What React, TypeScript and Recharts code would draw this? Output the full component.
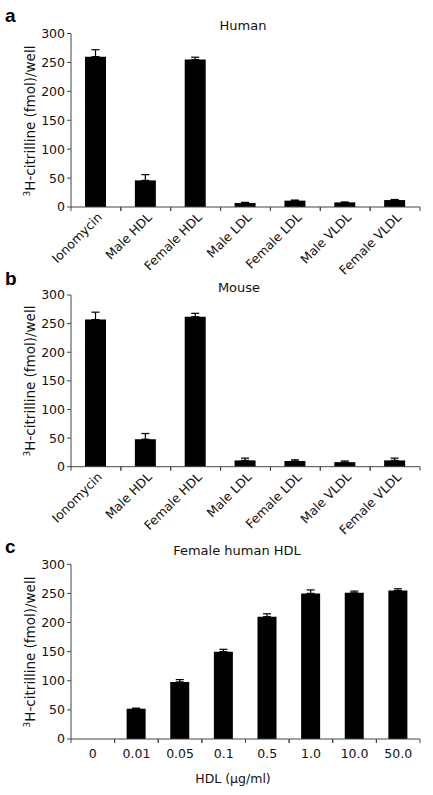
import React from 'react';
import { BarChart, Bar, XAxis, YAxis, ErrorBar } from 'recharts';

const lipoCategories = ['Ionomycin', 'Male HDL', 'Female HDL', 'Male LDL', 'Female LDL', 'Male VLDL', 'Female VLDL'];
const humanValues = [260, 46, 255, 7, 11, 8, 12];
const humanErrors = [12, 10, 4, 1, 1, 0.5, 1];
const mouseValues = [257, 48, 262, 11, 10, 8, 11];
const mouseErrors = [13, 10, 6, 4, 2, 2, 4];
const doseCategories = ['0', '0.01', '0.05', '0.1', '0.5', '1.0', '10.0', '50.0'];
const doseValues = [0, 52, 98, 150, 210, 250, 251, 255];
const doseErrors = [0, 1, 4, 4, 5, 6, 3, 3];
const yTicks = [0, 50, 100, 150, 200, 250, 300];

const FONT = '"DejaVu Sans", sans-serif';
const AXIS = '#444';
const PLOT_LEFT = 71;
const PLOT_RIGHT = 420;
const W = 433;

const build = (cats: string[], vals: number[], errs: number[]) =>
  cats.map((c, i) => ({ name: c, value: vals[i], err: [0, errs[i]] }));

const makeTick = (band: number, rotated: boolean) => (props: any) => {
  const { x, y, payload } = props;
  return (
    <g>
      <line x1={x - band / 2} y1={y} x2={x - band / 2} y2={y + 4} stroke={AXIS} strokeWidth={1} />
      <line x1={x + band / 2} y1={y} x2={x + band / 2} y2={y + 4} stroke={AXIS} strokeWidth={1} />
      {rotated ? (
        <text
          x={x + 7}
          y={y + 11}
          textAnchor="end"
          transform={`rotate(-45, ${x + 7}, ${y + 11})`}
          fontFamily={FONT}
          fontSize={12.5}
          fill="#111"
        >
          {payload.value}
        </text>
      ) : (
        <text x={x} y={y + 19} textAnchor="middle" fontFamily={FONT} fontSize={12.5} fill="#111">
          {payload.value}
        </text>
      )}
    </g>
  );
};

type PanelProps = {
  top: number;
  height: number;
  plotTop: number;
  plotBottom: number;
  data: any[];
  rotated: boolean;
  barSize: number;
};

const Panel = ({ top, height, plotTop, plotBottom, data, rotated, barSize }: PanelProps) => {
  const band = (PLOT_RIGHT - PLOT_LEFT) / data.length;
  const xAxisHeight = height - plotBottom;
  return (
    <div style={{ position: 'absolute', left: 0, top, width: W, height }}>
      <BarChart
        width={W}
        height={height}
        data={data}
        margin={{ top: plotTop, right: W - PLOT_RIGHT, left: 0, bottom: 0 }}
        barCategoryGap={0}
      >
        <XAxis
          dataKey="name"
          height={xAxisHeight}
          interval={0}
          tickLine={false}
          tickSize={0}
          tickMargin={0}
          stroke={AXIS}
          tick={makeTick(band, rotated)}
        />
        <YAxis
          width={PLOT_LEFT}
          domain={[0, 300]}
          ticks={yTicks}
          interval={0}
          tickSize={4}
          tickMargin={2}
          stroke={AXIS}
          tick={{ fontFamily: FONT, fontSize: 12.5, fill: '#111' }}
        />
        <Bar dataKey="value" fill="#000" barSize={barSize} isAnimationActive={false}>
          <ErrorBar dataKey="err" width={4} stroke="#000" strokeWidth={1.2} direction="y" />
        </Bar>
      </BarChart>
    </div>
  );
};

const YLabel = ({ cy }: { cy: number }) => (
  <text
    x={35}
    y={cy}
    textAnchor="middle"
    transform={`rotate(-90, 35, ${cy})`}
    fontFamily={FONT}
    fontSize={13.5}
    fill="#111"
  >
    <tspan fontSize={9} dy={-5}>3</tspan>
    <tspan dy={5}>H-citrilline (fmol)/well</tspan>
  </text>
);

export default function App() {
  const humanData = build(lipoCategories, humanValues, humanErrors);
  const mouseData = build(lipoCategories, mouseValues, mouseErrors);
  const doseData = build(doseCategories, doseValues, doseErrors);
  return (
    <div style={{ position: 'absolute', left: 0, top: 0, width: W, height: 795, background: '#fff' }}>
      <style>{`.recharts-surface{overflow:visible}.recharts-wrapper{overflow:visible}`}</style>
      <Panel top={0} height={270} plotTop={33.5} plotBottom={207} data={humanData} rotated barSize={21} />
      <Panel top={270} height={260} plotTop={25} plotBottom={196.7} data={mouseData} rotated barSize={21} />
      <Panel top={530} height={265} plotTop={34.3} plotBottom={209} data={doseData} rotated={false} barSize={19} />
      <svg width={W} height={795} style={{ position: 'absolute', left: 0, top: 0, pointerEvents: 'none' }}>
        <text x={5} y={22} fontFamily='"Liberation Sans", sans-serif' fontWeight="bold" fontSize={19} fill="#000">a</text>
        <text x={5} y={285} fontFamily='"Liberation Sans", sans-serif' fontWeight="bold" fontSize={19} fill="#000">b</text>
        <text x={5} y={553} fontFamily='"Liberation Sans", sans-serif' fontWeight="bold" fontSize={19} fill="#000">c</text>
        <text x={243} y={30} textAnchor="middle" fontFamily={FONT} fontSize={13} fill="#111">Human</text>
        <text x={239} y={291.5} textAnchor="middle" fontFamily={FONT} fontSize={13} fill="#111">Mouse</text>
        <text x={237} y={555} textAnchor="middle" fontFamily={FONT} fontSize={13} fill="#111">Female human HDL</text>
        <YLabel cy={121} />
        <YLabel cy={381} />
        <YLabel cy={652} />
        <text x={233} y={783} textAnchor="middle" fontFamily={FONT} fontSize={12.5} fill="#111">HDL (μg/ml)</text>
      </svg>
    </div>
  );
}
